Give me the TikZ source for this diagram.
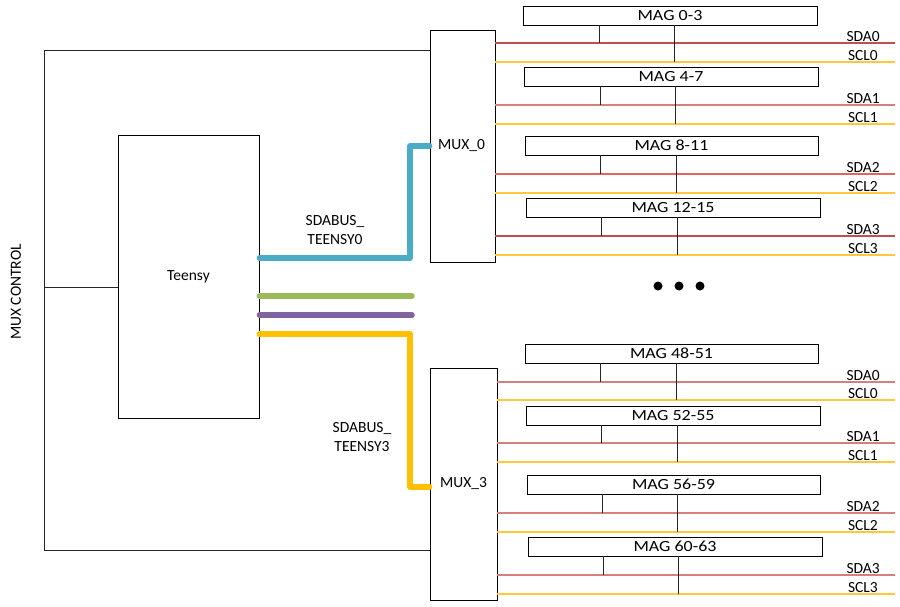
\documentclass[tikz,border=0pt]{standalone}
\usepackage{fontspec}
\setmainfont{Carlito}
\definecolor{busblue}{RGB}{75,172,198}
\definecolor{busgreen}{RGB}{155,187,89}
\definecolor{buspurple}{RGB}{128,100,162}
\definecolor{busgold}{RGB}{255,192,0}
\definecolor{sdaD}{RGB}{192,80,77}
\definecolor{sdaP}{RGB}{212,128,124}
\definecolor{sdaR}{RGB}{228,100,95}
\definecolor{sclY}{RGB}{255,200,60}
\begin{document}
\begin{tikzpicture}[x=1pt,y=-1pt,
  font=\fontsize{15.5}{19}\selectfont,
  box/.style={draw=black, line width=0.9pt, inner sep=0pt, fill=white},
  bus/.style={line width=5.5pt, line cap=round, line join=round},
  wire/.style={line width=0.9pt, draw=black!85},
  thinbus/.style={line width=1.2pt},
  lab/.style={inner sep=0pt},
  dotnode/.style={circle, fill=black, inner sep=0pt, minimum size=9pt}]
\useasboundingbox (0,0) rectangle (900,606);

% main blocks
\node[box, minimum width=141pt, minimum height=283pt] (teensy) at (188.5,276.5) {Teensy};
\node[box, minimum width=65pt, minimum height=232pt] (mux0) at (462.5,146) {};
\node[box, minimum width=67pt, minimum height=232pt] (mux3) at (463.5,484) {};
\node[lab, anchor=west] (mux0lab) at (438,146) {MUX\_0};
\node[lab, anchor=west] (mux3lab) at (440,484) {MUX\_3};
\node[lab, rotate=90] (muxctl) at (16,292) {MUX CONTROL};

% MUX control wiring
\coordinate (ctlTop) at (44,50);
\coordinate (ctlBot) at (44,550);
\coordinate (ctlMid) at (44,287);
\draw[wire] (mux0.west |- ctlTop) -- (ctlTop) -- (ctlBot) -- (mux3.west |- ctlBot);
\draw[wire] (ctlMid) -- (teensy.west |- ctlMid);

% SDA buses from Teensy
\coordinate (b0) at (410,146);
\coordinate (b3) at (410,487);
\coordinate (g1) at (412,296);
\coordinate (p2) at (412,315);
\draw[bus, busblue] (teensy.east |- {(0,258)}) -| (b0) -- (mux0.west |- b0);
\draw[bus, busgreen] (teensy.east |- g1) -- (g1);
\draw[bus, buspurple] (teensy.east |- p2) -- (p2);
\draw[bus, busgold] (teensy.east |- {(0,334)}) -| (b3) -- (mux3.west |- b3);
\node[lab, align=center] (lab0) at (335,230) {SDABUS\_\\TEENSY0};
\node[lab, align=center] (lab3) at (362,437) {SDABUS\_\\TEENSY3};

% magnetometer rows
\foreach \n/\t/\xa/\xb/\yt/\sda/\scl/\va/\vb/\mux/\i/\c in {
  0/{MAG 0-3}/523/817/6/43/62/599/674/mux0/0/sdaD,
  1/{MAG 4-7}/524/818/67/105/124/600/675/mux0/1/sdaP,
  2/{MAG 8-11}/525/818/136/174/193/600/676/mux0/2/sdaR,
  3/{MAG 12-15}/526/820/198/236/255/601/677/mux0/3/sdaD,
  4/{MAG 48-51}/525/818/344/382/400/600/676/mux3/0/sdaP,
  5/{MAG 52-55}/526/820/406/443/462/601/677/mux3/1/sdaP,
  6/{MAG 56-59}/527/820/475/513/532/602/677/mux3/2/sdaP,
  7/{MAG 60-63}/528/822/537/575/594/603/678/mux3/3/sdaP}{
  \node[box, minimum width={(\xb-\xa)*1pt}, minimum height=19pt]
     (m\n) at ({(\xa+\xb)/2},{\yt+9.5}) {\scalebox{1.16}[1]{\t}};
  \coordinate (sdaend\n) at (895,\sda);
  \coordinate (sclend\n) at (895,\scl);
  \draw[thinbus, \c] (\mux.east |- sdaend\n) -- (sdaend\n);
  \draw[thinbus, sclY] (\mux.east |- sclend\n) -- (sclend\n);
  \coordinate (sdatap\n) at (\va,\sda);
  \coordinate (scltap\n) at (\vb,\scl);
  \draw[wire] (m\n.south -| sdatap\n) -- (sdatap\n);
  \draw[wire] (m\n.south -| scltap\n) -- (scltap\n);
  \node[lab, anchor=base east] (sdalab\n) at (880,\sda-1.5) {SDA\i};
  \node[lab, anchor=base east] (scllab\n) at (878,\scl-1.5) {SCL\i};
}

% ellipsis dots
\node[dotnode] (d1) at (658,286) {};
\node[dotnode] (d2) at (679,286) {};
\node[dotnode] (d3) at (700,286) {};
\end{tikzpicture}
\end{document}
